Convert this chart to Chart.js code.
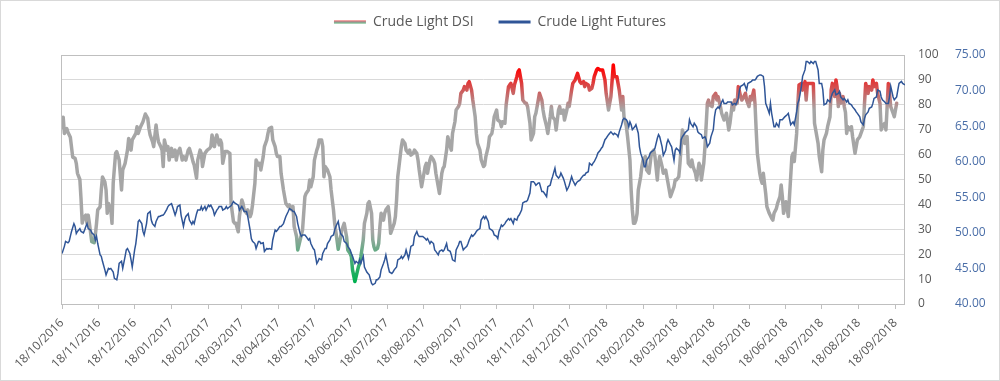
<!DOCTYPE html>
<html lang="en">
<head>
<meta charset="UTF-8">
<title>Crude Light DSI vs Crude Light Futures</title>
<script src="https://cdn.jsdelivr.net/npm/chart.js"></script>
<style>
  body { margin: 0; background: #fff; }
  #wrap { position: relative; width: 1000px; height: 381px; }
</style>
</head>
<body>
<div id="wrap"><canvas id="chart"></canvas></div>
<script>
// x values are days counted from 18/10/2016
const tickLabels = ['18/10/2016', '18/11/2016', '18/12/2016', '18/01/2017', '18/02/2017', '18/03/2017',
  '18/04/2017', '18/05/2017', '18/06/2017', '18/07/2017', '18/08/2017', '18/09/2017', '18/10/2017',
  '18/11/2017', '18/12/2017', '18/01/2018', '18/02/2018', '18/03/2018', '18/04/2018', '18/05/2018',
  '18/06/2018', '18/07/2018', '18/08/2018', '18/09/2018'];

const dsiDays = [
  0,1,2,4,5,7,9,11,12,13,15,16,17,18,20,21,22,23,25,27,28,29,30,32,33,34,36,37,38,39,41,42,43,45,46,48,50,51,53,55,
  56,58,59,62,63,64,66,68,70,72,73,74,76,77,79,80,81,83,84,85,86,88,89,90,92,93,95,96,97,99,101,102,104,106,107,109,110,111,113,114,
  116,117,118,120,122,124,125,126,128,129,130,132,133,134,135,137,139,141,142,144,145,146,148,149,151,152,153,155,156,158,159,160,162,163,
  165,166,167,169,170,172,173,174,176,177,179,180,181,183,184,186,187,188,190,191,193,194,195,197,198,200,201,202,204,205,
  207,208,209,211,212,214,215,216,218,219,220,221,223,225,226,228,229,230,232,234,235,237,239,240,242,243,244,246,247,249,
  250,251,253,254,256,257,258,260,261,262,263,265,266,267,268,270,271,272,274,275,276,277,279,280,281,282,284,285,286,288,
  289,291,292,293,295,296,298,299,300,302,303,305,306,307,309,310,312,313,314,316,317,319,320,321,323,324,326,327,328,330,
  331,333,334,335,337,338,340,341,342,344,345,347,348,349,351,352,354,355,356,358,359,361,362,363,365,366,368,369,370,372,
  373,375,376,377,379,380,382,383,384,386,387,389,390,391,393,394,396,397,398,400,401,403,404,405,407,408,410,411,412,414,
  415,417,418,419,421,422,424,425,426,428,429,431,432,433,435,436,438,439,440,442,443,445,446,447,449,450,452,453,454,456,
  457,459,460,461,463,464,466,467,468,470,471,472,474,475,477,478,479,480,481,482,483,484,486,487,488,490,491,493,494,495,
  497,498,500,501,502,504,505,507,508,509,511,512,514,515,516,518,519,521,522,523,525,526,528,529,530,532,533,535,536,537,
  539,540,542,543,544,546,547,549,550,551,553,554,556,557,558,560,561,563,564,565,567,568,570,571,572,574,575,577,578,579,
  581,582,583,584,586,587,588,589,591,592,594,596,597,598,600,601,603,604,605,606,607,608,609,610,611,612,613,614,615,617,
  618,619,621,622,624,625,626,628,629,631,632,634,635,636,638,639,640,642,643,645,646,647,649,650,651,652,653,654,656,657,
  658,659,660,662,663,664,666,667,668,670,671,673,674,675,677,678,680,681,682,684,685,687,688,689,691,692,693,694,695,696,
  698,699,701];
const dsiValues = [
  71,75,68.5,70.5,69,67,59,58.5,56.5,52.5,50,42,32.5,34.5,35.7,32.4,35.7,32.4,25,24.6,27.7,32.4,37.8,39,45.8,51,49,45.8,36.4,40.4,37.8,32.4,48.5,60.5,61.2,57.8,45.8,53.8,56.5,61.8,
  66.5,61.8,65.9,68.5,71.2,68.5,71.2,73.2,76.3,74.6,70.5,67.9,65.2,63.2,71.9,67.9,65.2,63.2,61.8,55.2,65.9,61.8,63.2,57.8,62.5,59.2,61.8,57.8,60.5,62.5,57.8,59.2,57.8,61.8,62.5,59.2,57.2,55.8,50.5,57.8,
  61.8,60.5,55.2,60.5,61.8,62.5,63.2,67.9,63.2,65.9,67.9,63.9,65.9,64.5,56.5,61.2,61.2,60.5,40.4,33.1,32.4,32.4,29,35.1,41.8,40.4,37.8,36.4,37.8,35.1,36.4,39.8,48.5,57.8,
  55.8,56.5,53.8,59.2,63.2,65.9,68.5,70.5,71,65.9,63.2,60.5,59.2,59.2,52.5,45.8,43.1,40.4,39.1,39.8,37.8,39.1,31.1,27.1,21.7,25.7,27.7,29.7,43.1,44.4,
  45.8,49.8,47.1,51.1,57.8,61.8,63.2,65.9,65.9,63.2,51.1,55.2,53.8,51.1,45.8,37.8,32.4,29,22,27,29.7,32.4,27,21.7,20.3,19,13.7,9,11,15,
  16.3,19,25.7,32.4,36.4,40.4,41.1,36.4,25.7,23,21.7,22.4,24.4,31.1,36.4,33.7,36.4,37.8,39.1,35.1,28.4,29.7,32.4,35.1,41.8,51.1,59.2,63.2,65.9,64.5,
  61.8,60.5,61.8,59.8,60.5,61.8,60.5,57.8,53.8,47.1,49.8,55.2,56.5,52.5,57.8,59.2,57.8,56.5,52.5,47.1,44.4,52.5,54.5,55.2,61.8,67.2,63.2,61.8,68.5,73.2,
  77.9,79.3,80.6,84.6,85.9,87.3,85.9,88.6,89.3,85.9,81.9,75.2,68.5,64.5,61.8,58,55.2,55.8,59.2,63.2,67.2,68.5,71.2,75.2,77.9,73.9,73.2,71.2,73.2,72.6,
  79.9,87.3,88,88.6,84.6,88,91.3,93.3,94,88.6,81.9,80.6,80.6,79.3,72.6,65.9,68.5,75.2,76.6,81.9,84.6,81.9,77.9,75.2,71.2,68.5,75.2,79.3,75.2,73.9,
  69.9,77.9,79.3,76.6,77.9,73.9,77.9,80.6,79.3,85.9,88.6,90,91.3,92.6,89.3,88.6,89.3,87.3,88.6,88,85.9,86.6,88.6,91.3,94,94.6,94,94,94,90,
  84.6,77.9,80.6,83.3,96,91.3,91.3,88.6,85.9,77.9,83.3,75.2,71.2,67.2,57.8,45.8,37.8,32.4,32.4,33.7,36.4,45.8,51.1,55.2,57.8,59.2,53.8,52.5,56.5,60.5,
  61.8,59.2,49.8,56.5,59.2,55.2,52.5,53.8,51.1,48.5,43.1,44.4,47.1,49.8,49.8,51.1,56.5,69.9,68.5,64.5,67.2,56.5,55.2,57.8,55.2,52.5,49.8,56.5,55.2,49.8,
  56.5,63.2,80.6,81.9,79.9,79.3,83.3,84.6,81.9,83.3,79.3,76.6,73.9,75.2,76.6,69.9,72.6,80.6,77.9,81.9,80.6,87.3,83.3,81.9,82.6,84.6,81.9,79.3,83.3,81.9,
  85.9,80.6,69.9,60.5,52.5,50,48.5,52.5,44.4,39.1,36.4,34.4,33.7,36.4,38.4,40.4,43.1,47.8,43.1,36.4,39.1,41.1,38.4,35.1,43.1,51.1,59.2,60.5,57.2,68.5,
  80.6,88,88.6,85.9,89.3,81.9,88.6,88.6,88.6,88.6,72.6,67.2,64.5,59.2,53.1,61.8,65.9,68.5,71.2,75.2,85.9,88.6,83.3,90,87,79.3,84.6,80.6,83.3,79.3,
  77,68.5,71.2,69.9,71.2,67.2,60.5,63.2,65.9,67.2,68.5,71.2,80.6,88.6,84.6,87.3,85.9,90,87.3,88.6,84.6,80.6,69.9,71.2,72.6,69.9,79.3,88.6,84.6,79.3,
  76.6,75.2,80.6];

const futDays = [
  0,2,3,5,6,7,8,10,11,12,13,15,16,18,19,20,21,22,24,25,27,28,29,30,32,33,34,36,37,39,40,41,43,44,46,47,48,50,51,53,
  54,55,57,58,59,61,62,63,64,65,67,68,69,71,72,74,75,76,78,79,81,82,83,85,86,88,89,90,92,93,95,96,97,99,100,102,103,104,106,107,
  109,110,111,113,114,116,117,118,120,121,123,124,125,127,128,130,131,132,134,135,137,138,139,141,142,144,145,146,148,149,151,152,153,155,156,158,159,160,162,163,
  165,166,167,169,170,172,173,174,176,177,179,180,181,183,184,186,187,188,190,191,193,194,195,197,198,200,201,202,204,205,
  207,208,209,211,212,214,215,216,218,219,221,222,223,225,226,228,229,230,232,233,234,236,237,239,240,242,243,244,246,247,
  249,250,251,253,254,256,257,258,260,261,263,264,265,267,268,270,271,272,274,275,277,278,279,281,282,284,285,286,288,289,
  291,292,293,295,296,298,299,300,302,303,305,306,307,309,310,312,313,314,316,317,319,320,321,323,324,326,327,328,330,331,
  333,334,335,337,338,340,341,342,344,345,347,348,349,351,352,354,355,356,358,359,361,362,363,365,366,367,368,369,370,372,
  373,375,376,377,379,380,382,383,384,386,387,389,390,391,393,394,396,397,398,400,401,403,404,405,407,408,410,411,412,414,
  415,417,418,419,421,422,424,425,426,428,429,431,432,433,435,436,438,439,440,442,443,445,446,447,449,450,452,453,454,456,
  457,459,460,461,463,464,466,467,468,470,471,472,474,475,476,477,478,479,481,482,484,485,486,488,489,490,491,493,494,495,
  497,498,500,501,502,504,505,507,508,509,511,512,514,515,516,518,519,520,521,523,524,526,527,528,530,531,533,534,535,537,
  538,540,541,542,544,545,547,548,549,551,552,554,555,556,558,559,561,562,563,565,566,568,569,570,572,573,575,576,577,579,
  580,582,583,584,586,587,589,590,591,593,594,595,596,598,599,600,602,603,605,606,607,609,610,612,613,614,615,617,618,619,
  621,622,624,625,626,628,629,631,632,633,635,636,638,639,640,642,643,645,646,647,649,650,652,653,654,656,657,659,660,661,
  663,664,666,667,668,670,671,673,674,675,677,678,680,681,682,684,685,687,688,689,691,692,694,695,696,698,699,701,702,703,
  705,706,708];
const futValues = [
  47.1,48.1,48.8,48.6,48.8,49.5,50.2,51.3,50.9,49.9,50.2,50.6,50.2,50,50.4,50.9,51.3,50.6,50.4,50,49.7,49,49.5,48.5,46.9,46.7,46,44.8,44.1,45,44.9,45,44.5,43.6,43.4,44.3,45.7,46,45,46.7,
  47.6,47.8,47.1,46.2,45.2,47.6,48.5,49.9,51.6,51.8,51.3,50.2,49.7,51.3,52.7,53,51.8,51.3,50.9,51.6,52.3,52.3,52.4,52.5,52.7,53.3,53.7,53.9,54.1,53.6,52.5,53,53.7,53.9,52.5,50.9,51.8,52.3,52.7,51.8,
  51.2,51.6,51.3,52.7,53.2,53.2,53.7,53.2,53.7,53.2,53.9,53.7,53.9,53.2,52.5,53.2,53.4,53.7,53.7,53.2,53.4,53.7,53.4,53.7,53.8,54.4,54.2,54.1,53.9,53.2,53.7,53.4,53,53,52.3,50.4,49.2,48.8,48.5,47.8,
  48.8,48.8,48.5,48.6,47.4,47.8,47.7,47.8,47.7,49,50.4,50.2,50.4,50.9,50.9,51.3,51.8,52.3,53,53.4,53.2,53,53,52.3,51.3,49.9,49.5,49.7,49.7,49.5,
  49,49.2,48.5,47.8,47.6,45.7,46,46.4,46.2,47.1,47.8,47.8,48.5,49,49.5,49.7,50.4,50.9,51.6,50.6,49.9,49.5,48.8,48.5,48.1,47.6,47.1,46.7,45.7,46,
  45.7,46.2,45.7,46.7,45.2,44.5,44.3,44.1,42.9,42.7,42.9,43.4,43.4,43.8,44.8,45.7,46.2,46.9,45.2,44.5,44.3,44.5,44.8,45.2,46.2,46.4,46.7,46.4,46.9,47.6,
  46.4,47.1,48.1,48.3,49.5,50.2,49.7,49.5,49.5,49.5,49.2,49,49.2,48.5,48.8,48.5,47.6,47.4,46.9,47.4,47.6,47.4,47.6,48.5,47.6,47.4,46.9,46.2,46,47.6,
  48.3,48.8,48.8,47.6,47.8,48.1,48.5,49,49.7,49.5,49.9,50.2,50.4,50.6,51.8,52.3,52,52.3,51.6,50.6,50.4,50.2,49.7,49.5,49.2,50.2,50.6,51.1,50.9,51.3,
  51.6,52,51.8,52,51.3,52,51.8,52.3,52.5,53.2,54.2,54.4,54.4,54.6,55.6,57.2,57.2,57,56.7,57,57,55.8,55.8,55.6,55.1,56.5,56.7,57.4,57.9,59.1,
  58.1,57.7,57.9,58.4,57.7,57.2,56,56.3,56.7,57.9,57.4,56.7,57,57.2,57.4,57.7,58.1,58.1,58.4,58.6,59.8,59.5,59.8,60,60.7,61.2,61.6,61.9,62.1,63.1,
  63.3,63.8,64,64.2,63.8,64,63.8,63.5,64.2,65.2,65.9,66.1,65.9,65.6,64.9,65.6,65.2,64.5,64.9,65.2,64,62.1,61.2,60.2,59.3,59.3,60.2,60.7,61.2,61.4,
  61.6,61.9,63.3,63.8,63.5,62.1,60.9,61.6,62.6,63.1,62.4,62.1,60.2,61.6,61.9,61.6,61.2,63.1,63.5,64,64.2,64.5,65.9,65.4,64.9,65.4,64.9,64.2,64,63.8,
  63.3,63.5,63.1,62.1,62.6,63.5,64.5,66.3,67.3,67.7,67.5,68.4,68.7,68.2,68.2,68.4,68.4,68.4,68,68.2,68,68.9,70.1,70.6,70.8,71,70.1,71,71.1,71.3,
  71.5,71.5,71.7,72,72.2,72.2,72,70.6,68.2,67.3,66.8,68.2,66.8,64.9,64.9,65.4,64.9,65.9,65.9,66.1,66.3,66.6,66.8,65.2,65.4,65.6,65.2,67,68.2,68.7,
  70.6,72,72.9,74.1,74.1,73.8,74.1,73.8,74.1,74.1,72.9,71,71,70.1,68,68.2,68.7,68.4,69.1,69.6,70.1,69.4,69.6,69.9,69.1,68.7,68.9,68.4,68.7,68.2,
  68,67.7,67.3,67,66.8,66.3,65.6,65.2,66.1,66.6,67,67.5,67.7,68.2,68.9,69.1,70.1,69.9,69.1,68.7,68.4,68.2,68.2,69.1,70.6,69.1,68.7,69.1,70.1,71,
  71.3,71,70.8];

function daysFromStart(label) {
  const [d, m, y] = label.split('/').map(Number);
  return Math.round((Date.UTC(y, m - 1, d) - Date.UTC(2016, 9, 18)) / 86400000);
}
const tickDays = tickLabels.map(daysFromStart);

const GREY = '#a6a6a6';
const FUT_BLUE = '#2f5597';

// Excel style value gradient: green at the lows, grey in the middle, red at the highs
function dsiColour(context) {
  const chart = context.chart;
  const y = chart.scales && chart.scales.y;
  if (!chart.chartArea || !y) return GREY;
  const g = chart.ctx.createLinearGradient(0, y.getPixelForValue(0), 0, y.getPixelForValue(100));
  g.addColorStop(0, '#00b050');
  g.addColorStop(0.09, '#00b050');
  g.addColorStop(0.29, GREY);
  g.addColorStop(0.78, GREY);
  g.addColorStop(0.95, '#ff0000');
  g.addColorStop(1, '#ff0000');
  return g;
}

function legendSwatch(chart) {
  const g = chart.ctx.createLinearGradient(0, 20.5, 0, 23.5);
  g.addColorStop(0, '#e04a4a');
  g.addColorStop(0.5, GREY);
  g.addColorStop(1, '#4fa86a');
  return g;
}

const frame = {
  id: 'frame',
  beforeDatasetsDraw(chart) {
    const { ctx, chartArea: a } = chart;
    ctx.save();
    ctx.lineWidth = 1;
    ctx.strokeStyle = '#bfbfbf';
    ctx.strokeRect(Math.round(a.left) - 0.5, Math.round(a.top) + 0.5,
      Math.round(a.right - a.left), Math.round(a.bottom - a.top));
    ctx.strokeStyle = '#d9d9d9';
    ctx.strokeRect(0.5, 0.5, chart.width - 1, chart.height - 1);
    ctx.restore();
  }
};

Chart.defaults.font.family = "'Open Sans', sans-serif";
Chart.defaults.color = '#595959';

new Chart(document.getElementById('chart'), {
  type: 'line',
  data: {
    datasets: [
      {
        label: 'Crude Light DSI',
        data: dsiDays.map((d, i) => ({ x: d, y: dsiValues[i] })),
        yAxisID: 'y',
        borderColor: dsiColour,
        borderWidth: 3.5,
        borderJoinStyle: 'round',
        borderCapStyle: 'round',
        pointRadius: 0,
        order: 1
      },
      {
        label: 'Crude Light Futures',
        data: futDays.map((d, i) => ({ x: d, y: futValues[i] })),
        yAxisID: 'y1',
        borderColor: FUT_BLUE,
        borderWidth: 1.5,
        pointRadius: 0,
        order: 0
      }
    ]
  },
  options: {
    responsive: true,
    maintainAspectRatio: false,
    animation: false,
    // legend padding is wide for the gap between the two entries, so pull it up
    layout: { padding: { top: -10, left: 0, right: 0, bottom: 0 } },
    plugins: {
      tooltip: { enabled: false },
      legend: {
        position: 'top',
        labels: {
          boxWidth: 32,
          boxHeight: 3,
          padding: 25,
          color: '#595959',
          font: { size: 14 },
          generateLabels(chart) {
            return chart.data.datasets.map((ds, i) => ({
              text: ds.label,
              datasetIndex: i,
              fillStyle: i === 0 ? legendSwatch(chart) : FUT_BLUE,
              strokeStyle: 'rgba(0,0,0,0)',
              lineWidth: 0,
              hidden: false,
              fontColor: '#595959'
            }));
          }
        }
      },
      // empty spacer between legend and plot area
      subtitle: { display: true, text: '', weight: 100, font: { size: 10 }, padding: { top: 2, bottom: 2 } }
    },
    scales: {
      x: {
        type: 'linear',
        min: 0,
        max: 708,
        afterBuildTicks(scale) { scale.ticks = tickDays.map(v => ({ value: v })); },
        afterFit(scale) { scale.height = 77; scale.paddingLeft = 62; },
        ticks: {
          autoSkip: false,
          minRotation: 45,
          maxRotation: 45,
          padding: 7,
          color: '#595959',
          font: { size: 12 },
          callback: (v, i) => tickLabels[i]
        },
        grid: { drawOnChartArea: false, drawTicks: true, tickLength: 5, color: '#bfbfbf' },
        border: { display: false }
      },
      y: {
        position: 'right',
        min: 0,
        max: 100,
        afterFit(scale) { scale.width = 50; },
        ticks: { stepSize: 10, padding: 13, color: '#595959', font: { size: 12 } },
        grid: { color: '#d9d9d9', drawTicks: false },
        border: { display: false }
      },
      y1: {
        position: 'right',
        min: 40,
        max: 75,
        afterFit(scale) { scale.width = 45; },
        ticks: { stepSize: 5, padding: 0, color: '#4a6ea8', font: { size: 12 }, callback: v => v.toFixed(2) },
        grid: { display: false, drawTicks: false },
        border: { display: false }
      }
    }
  },
  plugins: [frame]
});
</script>
</body>
</html>
